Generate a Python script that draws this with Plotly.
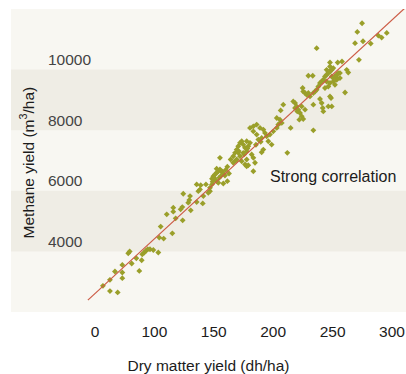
import plotly.graph_objects as go

# Dry matter yield (x) and methane yield (y)
dry_matter = [
    56.7, 62.6, 69.1, 62.6, 66.8, 73.0, 73.0, 73.0, 78.0, 79.2, 80.9, 84.8, 87.3, 89.3, 89.8, 91.5,
    92.7, 94.4, 96.3, 99.1, 103.3, 104.1, 105.3, 107.8, 115.1, 110.4, 115.9, 115.9, 117.9, 123.8,
    122.1, 123.5, 124.3, 128.5, 129.4, 130.0, 130.6, 135.6, 139.0, 137.0, 138.4, 135.6, 140.7,
    141.2, 145.4, 146.8, 148.5, 149.6, 151.0, 152.4, 153.8, 155.2, 156.7, 158.0, 159.4, 152.4,
    155.8, 151.0, 148.5, 146.8, 152.4, 154.6, 161.4, 162.8, 158.0, 161.4, 153.8, 143.4, 155.2,
    164.2, 166.4, 167.9, 169.3, 170.6, 172.1, 173.5, 174.8, 176.3, 177.7, 179.0, 180.5, 174.8,
    172.1, 169.3, 173.5, 177.7, 181.9, 183.3, 177.7, 170.6, 166.4, 176.3, 183.3, 190.3, 191.7,
    177.7, 184.7, 179.0, 180.5, 183.3, 186.1, 188.9, 191.7, 193.1, 194.5, 197.3, 200.1, 203.0,
    204.3, 205.7, 195.9, 198.7, 190.3, 186.1, 183.3, 187.5, 203.0, 207.2, 205.7, 214.7, 233.8,
    206.3, 208.5, 229.6, 233.3, 239.4, 240.8, 241.7, 242.2, 254.0, 246.4, 249.3, 248.7, 233.8,
    216.9, 218.4, 219.8, 221.1, 222.6, 224.0, 225.3, 222.0, 220.3, 218.4, 224.0, 226.8, 224.8,
    225.3, 226.8, 228.2, 229.6, 231.0, 233.8, 235.2, 236.6, 238.0, 239.4, 240.8, 242.2, 243.6,
    245.0, 246.4, 247.8, 249.3, 250.6, 245.0, 249.3, 250.6, 252.0, 253.5, 254.8, 256.2, 245.0,
    247.8, 250.6, 253.5, 256.2, 246.4, 243.6, 252.0, 247.8, 247.8, 254.3, 257.9, 261.9, 263.2,
    260.5, 247.8, 236.6, 211.9, 274.8, 270.8, 268.9, 275.6, 282.1, 272.2, 288.5, 291.3, 295.6,
    150.2, 157.1, 160.0, 149.0, 171.0, 175.5, 178.3, 168.5, 185.5, 189.5,
]
methane = [
    2864, 2689, 2647, 3061, 3337, 3555, 3305, 3117, 3939, 3995, 3601, 3775, 3357, 3709, 3907, 3963,
    4015, 4071, 4071, 4048, 3963, 4456, 4818, 4423, 4597, 5223, 5443, 5311, 5091, 5025,
    5387, 5463, 5904, 5608, 5693, 5825, 5354, 6210, 6187, 5989, 6045, 5627, 5584,
    5825, 5937, 5989, 6397, 6483, 6539, 6595, 6647, 6703, 6647, 6571, 6506, 6726,
    6483, 6374, 6210, 6101, 6318, 6430, 6792, 6571, 6242, 6318, 6266, 6210, 7088,
    7032, 7141, 7253, 7361, 7470, 7582, 7634, 7526, 7417, 7305, 7470, 7582, 7253,
    7141, 7032, 6976, 7032, 7197, 7088, 7634, 7253, 6924, 6868, 6647, 7272, 7361,
    6812, 6924, 6845, 8075, 8128, 8184, 8075, 8019, 7911, 7799, 7855, 7963, 8075,
    8184, 8240, 7634, 7526, 7746, 7855, 7963, 7690, 8404, 8240, 8348, 8075, 7996,
    8654, 8842, 9796, 9796, 9029, 8898, 8733, 8621, 9720, 8786, 8786, 9062, 8842,
    8950, 8898, 8786, 8677, 8569, 8457, 8371, 8348, 8621, 8733, 8786, 8677, 9391,
    9279, 9227, 9171, 9227, 9115, 9227, 9279, 9335, 9444, 9556, 9608, 9664, 9773,
    9829, 9885, 9937, 9993, 10049, 9993, 9773, 9720, 9773, 9829, 9885, 9885, 9608,
    9556, 9608, 9664, 9720, 9444, 9391, 9500, 10233, 10102, 10233, 10266, 9993, 9904,
    9246, 9115, 10707, 7253, 11530, 11243, 10872, 10937, 10858, 10322, 11122, 11056, 11210,
    6430, 6620, 6690, 6300, 7310, 7200, 7400, 7000, 7520, 7620,
]

# Regression line end points
fit_x = [44, 320]
fit_y = [2390, 12360]

x_tick_vals = [50, 100, 150, 200, 250, 300]
x_tick_text = ["0", "100", "150", "200", "250", "300"]
y_tick_vals = [4000, 6000, 8000, 10000]
y_tick_text = ["4000", "6000", "8000", "10000"]
bands = [(4000, 6000), (8000, 10000)]

FONT = "Liberation Sans, Arial, Helvetica, sans-serif"
TXT = "#1c1c1c"

fig = go.Figure()
fig.add_trace(go.Scatter(
    x=dry_matter, y=methane, mode="markers",
    marker=dict(symbol="diamond", size=4.5, color="#9a9f2a", line=dict(width=0)),
    showlegend=False, hoverinfo="skip",
))
fig.add_trace(go.Scatter(
    x=fit_x, y=fit_y, mode="lines",
    line=dict(color="#cc5b45", width=1.2),
    showlegend=False, hoverinfo="skip",
))

for y0, y1 in bands:
    fig.add_shape(type="rect", xref="paper", yref="y", x0=0, x1=1, y0=y0, y1=y1,
                  fillcolor="#efede5", line=dict(width=0), layer="below")

fig.add_annotation(text="Strong correlation", x=250, y=6480, xref="x", yref="y",
                   showarrow=False, font=dict(family=FONT, size=16, color=TXT))
fig.add_annotation(text="Methane yield (m<sup>3</sup>/ha)", xref="paper", yref="paper",
                   x=0.04, y=0.493, textangle=-90, showarrow=False,
                   xanchor="center", yanchor="middle",
                   font=dict(family=FONT, size=15.5, color=TXT))

fig.update_layout(
    width=406, height=374, autosize=False,
    margin=dict(l=11, r=0, t=9, b=62, pad=0),
    paper_bgcolor="white", plot_bgcolor="#f8f7f2",
    font=dict(family=FONT, size=15.5, color=TXT),
    xaxis=dict(range=[-20.7, 311.8], tickvals=x_tick_vals, ticktext=x_tick_text,
               showgrid=False, zeroline=False, showline=False, ticks="",
               ticklabelstandoff=8, automargin=False,
               title=dict(text="Dry matter yield (dh/ha)", standoff=27,
                          font=dict(family=FONT, size=15.5, color=TXT))),
    yaxis=dict(range=[2000, 12000], tickvals=y_tick_vals, ticktext=y_tick_text,
               showgrid=False, zeroline=False, showline=False, ticks="",
               automargin=False,
               ticklabelposition="inside", ticklabelstandoff=34, ticklabelshift=-10),
)

fig.write_html("out.html")
